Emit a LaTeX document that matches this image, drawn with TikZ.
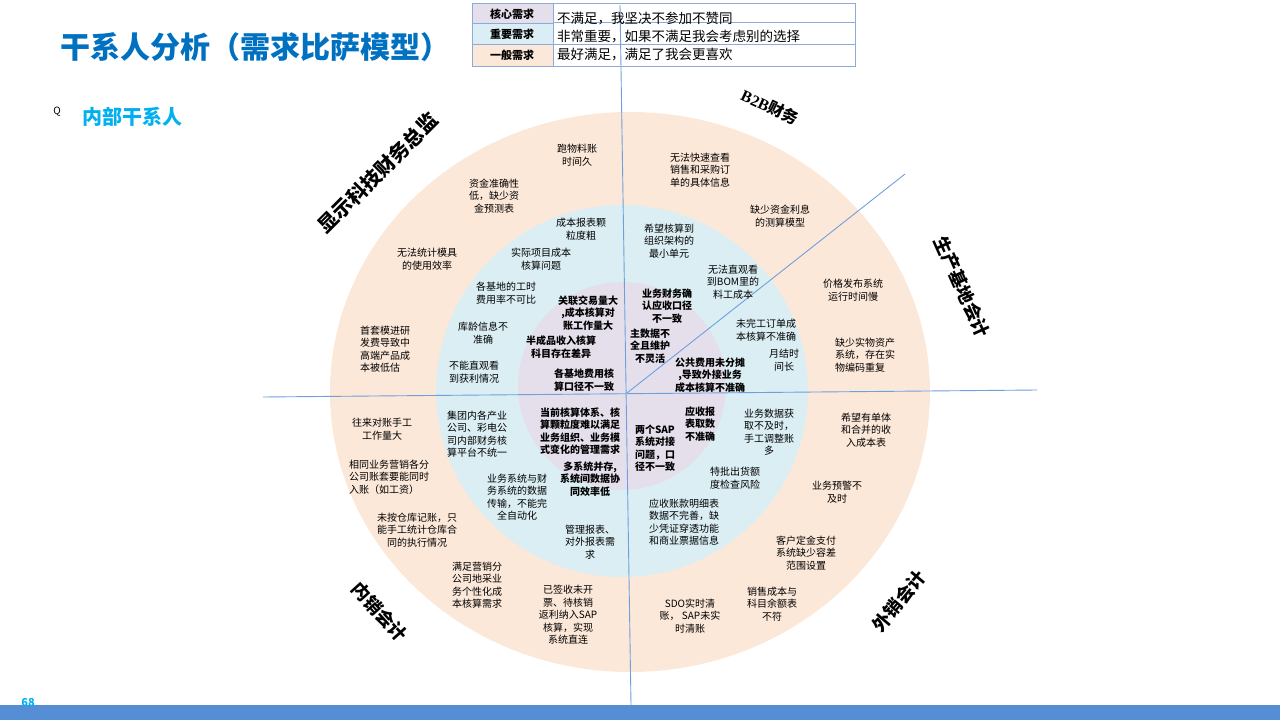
\documentclass[tikz,border=0pt]{standalone}
\usepackage{fontspec}
\setmainfont{Noto Sans CJK SC}
\newfontfamily\serifb{Liberation Serif}
\definecolor{peach}{HTML}{FCE8D9}
\definecolor{lblue}{HTML}{DAEEF3}
\definecolor{lpurp}{HTML}{E5DFEC}
\definecolor{axis}{HTML}{6FA0DC}
\definecolor{titleblue}{HTML}{0070C0}
\definecolor{cyanb}{HTML}{00B0F0}
\definecolor{barblue}{HTML}{558ED5}
\definecolor{legline}{HTML}{8EAADB}
\tikzset{
  item/.style={align=center,inner sep=0pt,font=\fontsize{10}{12.5}\selectfont},
  itemb/.style={item,font=\fontsize{10}{12.5}\selectfont\bfseries},
  role/.style={inner sep=0pt,font=\fontsize{18}{20}\selectfont\bfseries},
  legcell/.style={draw=legline,line width=0.8pt},
  axisline/.style={draw=axis,line width=0.9pt}
}
\begin{document}
\begin{tikzpicture}[x=1pt,y=-1pt]
\useasboundingbox (0,0) rectangle (1280,720);
% rings
\fill[peach] (630,392) ellipse [x radius=300,y radius=280];
\fill[lblue] (622,391) circle [radius=186];
\fill[lpurp] (622,386) circle [radius=104];
% axes
\coordinate (vtop) at (620,5);
\coordinate (vbot) at (631,705);
\coordinate (hleft) at (263,397);
\coordinate (hright) at (1037,390);
\coordinate (dstart) at (627,393);
\coordinate (dend) at (905,174);
\draw[axisline] (vtop) -- (vbot);
\draw[axisline] (hleft) -- (hright);
\draw[axisline] (dstart) -- (dend);
% bottom bar
\fill[barblue] (0,705) rectangle (1280,720);
\node[font=\fontsize{11}{12}\selectfont\bfseries,text=cyanb,inner sep=0pt] (pnum) at (28,702) {68};
% title
\node[font=\fontsize{30}{33}\selectfont\bfseries,text=titleblue,inner sep=0pt,anchor=west] (title) at (60,47) {干系人分析（需求比萨模型）};
\node[font=\fontsize{10}{12}\selectfont,inner sep=0pt] (q) at (57,112) {Q};
\node[font=\fontsize{20}{22}\selectfont\bfseries,text=cyanb,inner sep=0pt,anchor=west] (sub) at (82,117) {内部干系人};
% legend
\fill[lpurp] (472,3) rectangle (553,23);
\fill[lblue] (472,23) rectangle (553,44);
\fill[peach] (472,44) rectangle (553,66);
\draw[legcell] (472,3) rectangle (855,66);
\draw[legcell] (553,3) -- (553,66);
\draw[legcell] (472,23) -- (553,23);
\draw[legcell] (553,22) -- (855,22);
\draw[legcell] (472,44) -- (855,44);
\node[font=\fontsize{11}{12}\selectfont\bfseries,inner sep=0pt] (l1) at (512,14) {核心需求};
\node[font=\fontsize{11}{12}\selectfont\bfseries,inner sep=0pt] (l2) at (512,34) {重要需求};
\node[font=\fontsize{11}{12}\selectfont\bfseries,inner sep=0pt] (l3) at (512,55) {一般需求};
\node[font=\fontsize{13.5}{14}\selectfont,inner sep=0pt,anchor=west] (r1) at (557,19) {不满足，我坚决不参加不赞同};
\node[font=\fontsize{13.5}{14}\selectfont,inner sep=0pt,anchor=west] (r2) at (557,37) {非常重要，如果不满足我会考虑别的选择};
\node[font=\fontsize{13.5}{14}\selectfont,inner sep=0pt,anchor=west] (r3) at (557,55) {最好满足，满足了我会更喜欢};
% role labels
\node[role,font=\fontsize{20}{22}\selectfont\bfseries,rotate=45] (role1) at (378,173) {显示科技财务总监};
\node[role,font=\fontsize{16}{18}\selectfont\bfseries,rotate=-25] (role2) at (770,107) {{\serifb B2B}财务};
\node[role,rotate=-66] (role3) at (962,287) {生产基地会计};
\node[role,rotate=50] (role4) at (899,601) {外销会计};
\node[role,rotate=-48] (role5) at (380,612) {内销会计};
% outer ring items
\node[item] (t1) at (577,155) {跑物料账\\时间久};
\node[item] (t2) at (494,196) {资金准确性\\低，缺少资\\金预测表};
\node[item] (t3) at (427,259) {无法统计模具\\的使用效率};
\node[item,align=left] (t4) at (385,349) {首套模进研\\发费导致中\\高端产品成\\本被低估};
\node[item] (t5) at (382,429) {往来对账手工\\工作量大};
\node[item,align=left] (t6) at (389,477) {相同业务营销各分\\公司账套要能同时\\入账（如工资）};
\node[item] (t7) at (417,530) {未按仓库记账，只\\能手工统计仓库合\\同的执行情况};
\node[item] (t8) at (477,585) {满足营销分\\公司地采业\\务个性化成\\本核算需求};
\node[item] (t9) at (568,615) {已签收未开\\票、待核销\\返利纳入SAP\\核算，实现\\系统直连};
\node[item] (t10) at (690,616) {SDO实时清\\账， SAP未实\\时清账};
\node[item] (t11) at (772,604) {销售成本与\\科目余额表\\不符};
\node[item] (t12) at (806,553) {客户定金支付\\系统缺少容差\\范围设置};
\node[item] (t13) at (837,492) {业务预警不\\及时};
\node[item] (t14) at (866,430) {希望有单体\\和合并的收\\入成本表};
\node[item,align=left] (t15) at (865,355) {缺少实物资产\\系统，存在实\\物编码重复};
\node[item] (t16) at (853,290) {价格发布系统\\运行时间慢};
\node[item] (t17) at (780,216) {缺少资金利息\\的测算模型};
\node[item] (t18) at (700,170) {无法快速查看\\销售和采购订\\单的具体信息};
% middle ring items
\node[item] (t19) at (581,229) {成本报表颗\\粒度粗};
\node[item] (t20) at (541,259) {实际项目成本\\核算问题};
\node[item] (t21) at (506,293) {各基地的工时\\费用率不可比};
\node[item] (t22) at (483,333) {库龄信息不\\准确};
\node[item] (t23) at (474,372) {不能直观看\\到获利情况};
\node[item,align=left] (t24) at (477,434) {集团内各产业\\公司、彩电公\\司内部财务核\\算平台不统一};
\node[item] (t25) at (517,497) {业务系统与财\\务系统的数据\\传输，不能完\\全自动化};
\node[item] (t26) at (590,542) {管理报表、\\对外报表需\\求};
\node[item] (t27) at (684,522) {应收账款明细表\\数据不完善，缺\\少凭证穿透功能\\和商业票据信息};
\node[item] (t28) at (735,478) {特批出货额\\度检查风险};
\node[item] (t29) at (769,432) {业务数据获\\取不及时，\\手工调整账\\多};
\node[item] (t30) at (784,360) {月结时\\间长};
\node[item] (t31) at (766,330) {未完工订单成\\本核算不准确};
\node[item] (t32) at (733,282) {无法直观看\\到BOM里的\\料工成本};
\node[item] (t33) at (669,241) {希望核算到\\组织架构的\\最小单元};
% inner items (bold)
\node[itemb] (t34) at (588,313) {关联交易量大\\,成本核算对\\账工作量大};
\node[itemb] (t35) at (561,347) {半成品收入核算\\科目存在差异};
\node[itemb] (t36) at (584,380) {各基地费用核\\算口径不一致};
\node[itemb] (t37) at (667,306) {业务财务确\\认应收口径\\不一致};
\node[itemb] (t38) at (650,346) {主数据不\\全且维护\\不灵活};
\node[itemb] (t39) at (710,375) {公共费用未分摊\\,导致外接业务\\成本核算不准确};
\node[itemb] (t40) at (580,431) {当前核算体系、核\\算颗粒度难以满足\\业务组织、业务模\\式变化的管理需求};
\node[itemb] (t41) at (590,479) {多系统并存,\\系统间数据协\\同效率低};
\node[itemb,align=left] (t42) at (655,448) {两个SAP\\系统对接\\问题，口\\径不一致};
\node[itemb,align=left] (t43) at (700,424) {应收报\\表取数\\不准确};
\end{tikzpicture}
\end{document}
